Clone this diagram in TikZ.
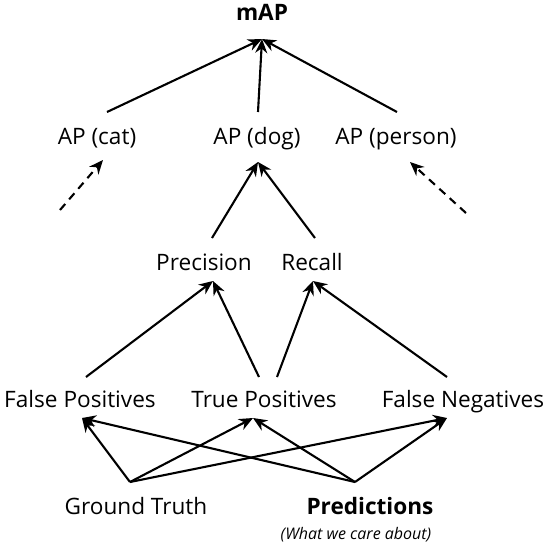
\documentclass[tikz,border=0pt]{standalone}
\usepackage{fontspec}
\setmainfont{Open Sans}
\usepackage{tikz}
\usetikzlibrary{arrows.meta}

\begin{document}
\begin{tikzpicture}[x=0.5pt,y=-0.5pt,
    lbl/.style={inner sep=1pt,anchor=base,font=\fontsize{11.3}{13}\selectfont},
    link/.style={line width=1.05pt,-{Stealth[length=7pt,width=6pt]}},
    hint/.style={link,dashed,dash pattern=on 4pt off 3pt}]
    \useasboundingbox (0,0) rectangle (554,554);

    % top of the tree
    \node[lbl,font=\fontsize{11.3}{13}\selectfont\bfseries] (map) at (262,20) {mAP};
    \coordinate (mapin) at (262,39);

    % average precision per class
    \node[lbl] (apcat) at (97,144) {AP (cat)};
    \node[lbl] (apdog) at (257,144) {AP (dog)};
    \node[lbl] (apperson) at (396,144) {AP (person)};
    \coordinate (catout) at (107,112);
    \coordinate (dogout) at (258,112);
    \coordinate (personout) at (397,112);
    \coordinate (dogin) at (258,162);
    \coordinate (catin) at (103,160);
    \coordinate (personin) at (410,162);
    \coordinate (catfrom) at (60,210);
    \coordinate (personfrom) at (466,213);

    % precision and recall
    \node[lbl] (prec) at (204,270) {Precision};
    \node[lbl] (rec) at (312,270) {Recall};
    \coordinate (precout) at (212,238);
    \coordinate (recout) at (315,238);
    \coordinate (precin) at (213,281);
    \coordinate (recin) at (313,281);

    % counts
    \node[lbl] (fp) at (80,407) {False Positives};
    \node[lbl] (tp) at (264,407) {True Positives};
    \node[lbl] (fn) at (463,407) {False Negatives};
    \coordinate (fpout) at (86,377);
    \coordinate (tpout) at (259,377);
    \coordinate (fnout) at (447,377);
    \coordinate (fpin) at (82,418);
    \coordinate (tpin) at (253,418);
    \coordinate (fnin) at (447,418);

    % inputs
    \node[lbl] (gt) at (136,514) {Ground Truth};
    \node[lbl,font=\fontsize{11.3}{13}\selectfont\bfseries] (pred) at (370,514) {Predictions};
    \node[inner sep=1pt,anchor=base,font=\fontsize{8}{9}\selectfont\itshape] (note) at (356,539) {(What we care about)};
    \coordinate (gtout) at (130,482);
    \coordinate (predout) at (355,482);

    % connectors
    \draw[link] (catout) -- (mapin);
    \draw[link] (dogout) -- (mapin);
    \draw[link] (personout) -- (mapin);
    \draw[hint] (catfrom) -- (catin);
    \draw[hint] (personfrom) -- (personin);
    \draw[link] (precout) -- (dogin);
    \draw[link] (recout) -- (dogin);
    \draw[link] (fpout) -- (precin);
    \draw[link] (tpout) -- (precin);
    \draw[link] ([xshift=9]tpout) -- (recin);
    \draw[link] (fnout) -- (recin);
    \draw[link] (gtout) -- (fpin);
    \draw[link] (gtout) -- (tpin);
    \draw[link] (gtout) -- (fnin);
    \draw[link] (predout) -- (fpin);
    \draw[link] (predout) -- (tpin);
    \draw[link] (predout) -- (fnin);
\end{tikzpicture}
\end{document}
